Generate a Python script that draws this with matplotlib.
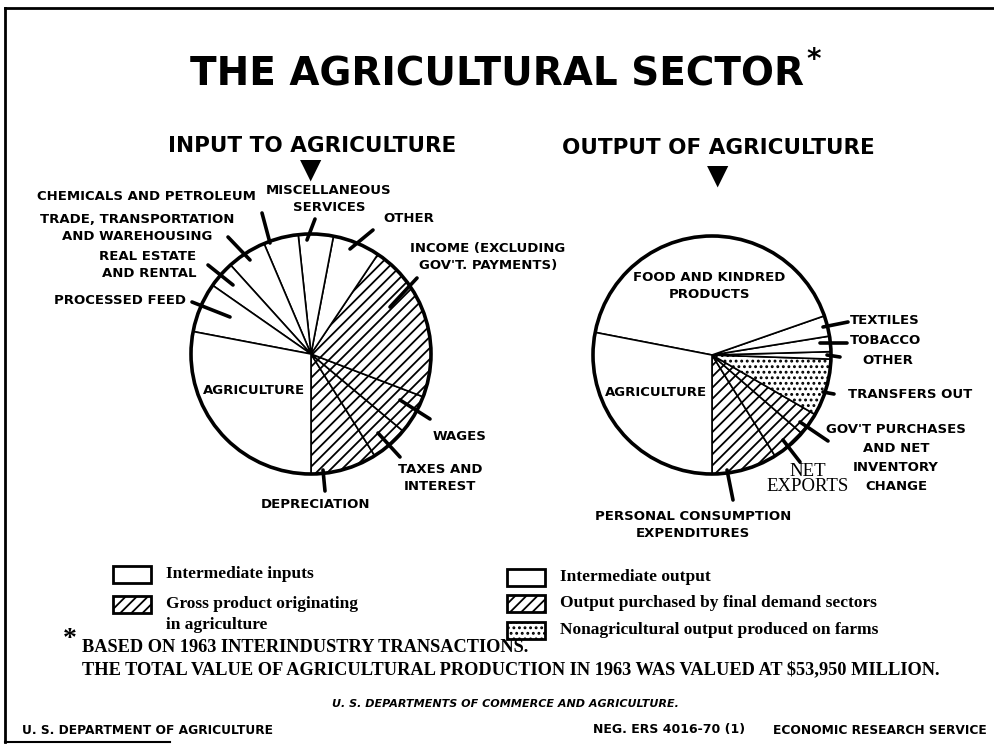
import matplotlib.pyplot as plt
from matplotlib import font_manager
from matplotlib.patches import Circle, Rectangle

W, H = 995, 745

# Input to agriculture, percent of total, counterclockwise from the bottom
in_labels = ['DEPRECIATION', 'TAXES AND\nINTEREST', 'WAGES',
             "INCOME (EXCLUDING\nGOV'T. PAYMENTS)", 'OTHER',
             'MISCELLANEOUS\nSERVICES', 'CHEMICALS AND PETROLEUM',
             'TRADE, TRANSPORTATION\nAND WAREHOUSING', 'REAL ESTATE\nAND RENTAL',
             'PROCESSED FEED', 'AGRICULTURE']
in_values = [8.9, 5.0, 5.3, 21.4, 6.4, 4.7, 4.7, 5.3, 3.6, 6.7, 28.0]
in_kind = ['gross', 'gross', 'gross', 'gross', 'inter', 'inter', 'inter',
           'inter', 'inter', 'inter', 'inter']

# Output of agriculture, percent of total, counterclockwise from the bottom
out_labels = ['PERSONAL CONSUMPTION\nEXPENDITURES', 'NET\nEXPORTS',
              "GOV'T PURCHASES\nAND NET\nINVENTORY\nCHANGE", 'TRANSFERS OUT',
              'OTHER', 'TOBACCO', 'TEXTILES', 'FOOD AND KINDRED\nPRODUCTS',
              'AGRICULTURE']
out_values = [8.9, 4.7, 3.1, 7.8, 1.0, 2.1, 2.8, 41.7, 28.1]
out_kind = ['final', 'final', 'final', 'nonag', 'inter', 'inter', 'inter',
            'inter', 'inter']

legend_left = [('inter', 'Intermediate inputs'),
               ('gross', 'Gross product originating\nin agriculture')]
legend_right = [('inter', 'Intermediate output'),
                ('final', 'Output purchased by final demand sectors'),
                ('nonag', 'Nonagricultural output produced on farms')]

hatch_of = {'inter': '', 'gross': '///', 'final': '///', 'nonag': '...'}


def have(name):
    try:
        font_manager.findfont(name, fallback_to_default=False)
        return True
    except ValueError:
        return False


narrow = have('Liberation Sans Narrow')
sans = 'Liberation Sans Narrow' if narrow else 'DejaVu Sans'
title_size = 34 if narrow else 28
lab_size = 11.3 if narrow else 9.5
head_size = 19 if narrow else 15.5
serif = 'Liberation Serif'

plt.rcParams['hatch.linewidth'] = 1.3

fig = plt.figure(figsize=(W / 100, H / 100), dpi=100)
ax = fig.add_axes([0, 0, 1, 1])


def Y(y):
    return H - y


def txt(x, y, s, size=lab_size, ha='center', family=None, step=16.5, **kw):
    # one text per line so every line keeps its own box
    lines = s.split('\n')
    y0 = y - step * (len(lines) - 1) / 2
    for i, line in enumerate(lines):
        ax.text(x, Y(y0 + i * step), line, ha=ha, va='center', fontsize=size,
                family=family or sans, fontweight='bold', **kw)


def pointer(p0, p1, lw=2.6):
    ax.plot([p0[0], p1[0]], [Y(p0[1]), Y(p1[1])], color='black', lw=lw,
            solid_capstyle='round')


# pies
pies = [((311, 354), 120, in_values, in_kind),
        ((712, 355), 119, out_values, out_kind)]
for (cx, cy), r, vals, kinds in pies:
    ax.pie(vals, startangle=-90, counterclock=True, center=(cx, Y(cy)),
           radius=r, colors=['white'] * len(vals),
           hatch=[hatch_of[k] for k in kinds],
           wedgeprops=dict(edgecolor='black', linewidth=1.2))
    ax.add_patch(Circle((cx, Y(cy)), r, fill=False, lw=2.6, ec='black'))

# left pie labels: (x, y, ha), pointer
in_pos = {
    'DEPRECIATION': ((315, 504, 'center'), ((323, 470), (325, 491))),
    'TAXES AND\nINTEREST': ((440, 478, 'center'), ((378, 433), (400, 457))),
    'WAGES': ((433, 437, 'left'), ((400, 400), (430, 419))),
    "INCOME (EXCLUDING\nGOV'T. PAYMENTS)": ((488, 257, 'center'), ((390, 307), (417, 278))),
    'OTHER': ((383, 219, 'left'), ((350, 249), (373, 230))),
    'MISCELLANEOUS\nSERVICES': ((329, 199, 'center'), ((307, 240), (315, 219))),
    'CHEMICALS AND PETROLEUM': ((256, 197, 'right'), ((270, 243), (262, 213))),
    'TRADE, TRANSPORTATION\nAND WAREHOUSING': ((137, 228, 'center'), ((250, 260), (228, 237))),
    'REAL ESTATE\nAND RENTAL': ((196, 265, 'right'), ((233, 285), (208, 265))),
    'PROCESSED FEED': ((186, 300, 'right'), ((230, 317), (192, 302))),
    'AGRICULTURE': ((254, 390, 'center'), None),
}
for lab in in_labels:
    (x, y, ha), ptr = in_pos[lab]
    txt(x, y, lab, ha=ha)
    if ptr:
        pointer(*ptr)

out_pos = {
    'PERSONAL CONSUMPTION\nEXPENDITURES': ((693, 525, 'center'), ((727, 470), (733, 500))),
    'NET\nEXPORTS': ((808, 479, 'center'), ((783, 440), (800, 462))),
    "GOV'T PURCHASES\nAND NET\nINVENTORY\nCHANGE": ((896, 458, 'center'), ((800, 422), (828, 441))),
    'TRANSFERS OUT': ((848, 395, 'left'), ((823, 392), (834, 394))),
    'OTHER': ((862, 361, 'left'), ((827, 355), (840, 357))),
    'TOBACCO': ((850, 341, 'left'), ((820, 343), (847, 343))),
    'TEXTILES': ((850, 321, 'left'), ((823, 327), (848, 322))),
    'FOOD AND KINDRED\nPRODUCTS': ((709, 286, 'center'), None),
    'AGRICULTURE': ((656, 392, 'center'), None),
}
for lab in out_labels:
    (x, y, ha), ptr = out_pos[lab]
    if lab == 'NET\nEXPORTS':
        ax.text(x, Y(y), lab, ha='center', va='center', fontsize=13.5,
                family=serif, linespacing=0.85)
    elif lab.startswith("GOV'T"):
        txt(x, y, lab, ha=ha, step=19.3)
    else:
        txt(x, y, lab, ha=ha)
    if ptr:
        pointer(*ptr)

# headings
txt(497, 75, 'THE AGRICULTURAL SECTOR', size=title_size)
txt(814, 60, '*', size=20)
txt(312, 146, 'INPUT TO AGRICULTURE', size=head_size)
txt(718, 148, 'OUTPUT OF AGRICULTURE', size=head_size)
ax.text(311, Y(170), '\u25BC', ha='center', va='center', fontsize=20,
        family='DejaVu Sans')
ax.text(718, Y(176), '\u25BC', ha='center', va='center', fontsize=20,
        family='DejaVu Sans')

# legend
for x0, rows, ys in [(113, legend_left, [574, 604]),
                     (507, legend_right, [577, 603, 630])]:
    for (kind, text), y in zip(rows, ys):
        ax.add_patch(Rectangle((x0, Y(y) - 8.5), 38, 17, fc='white', ec='black',
                               lw=2, hatch=hatch_of[kind]))
        for i, line in enumerate(text.split('\n')):
            ax.text(x0 + 53, Y(y + 21 * i), line, ha='left', va='center',
                    fontsize=12.5, family=serif, fontweight='bold')

# footnote
ax.text(63, Y(640), '*', ha='left', va='center', fontsize=20, family=serif,
        fontweight='bold')
ax.text(82, Y(647), 'BASED ON 1963 INTERINDUSTRY TRANSACTIONS.', ha='left',
        va='center', fontsize=13.2, family=serif, fontweight='bold')
ax.text(82, Y(670), 'THE TOTAL VALUE OF AGRICULTURAL PRODUCTION IN 1963 WAS '
        'VALUED AT $53,950 MILLION.', ha='left', va='center', fontsize=13.2,
        family=serif, fontweight='bold')
ax.text(505, Y(704), 'U. S. DEPARTMENTS OF COMMERCE AND AGRICULTURE.',
        ha='center', va='center', fontsize=8, family='DejaVu Sans',
        fontweight='bold', style='italic')
ax.text(22, Y(730), 'U. S. DEPARTMENT OF AGRICULTURE', ha='left', va='center',
        fontsize=8.8, family='DejaVu Sans', fontweight='bold')
ax.text(593, Y(730), 'NEG. ERS 4016-70 (1)', ha='left', va='center',
        fontsize=9, family='DejaVu Sans', fontweight='bold')
ax.text(987, Y(730), 'ECONOMIC RESEARCH SERVICE', ha='right', va='center',
        fontsize=8.8, family='DejaVu Sans', fontweight='bold')

# frame
ax.plot([5, W], [Y(8), Y(8)], color='black', lw=2)
ax.plot([5, 5], [Y(8), Y(742)], color='black', lw=2)
ax.plot([5, 170], [Y(742), Y(742)], color='black', lw=1.5)

ax.set_xlim(0, W)
ax.set_ylim(0, H)
ax.set_aspect('auto')
ax.axis('off')

fig.savefig('out.png', dpi=100)
